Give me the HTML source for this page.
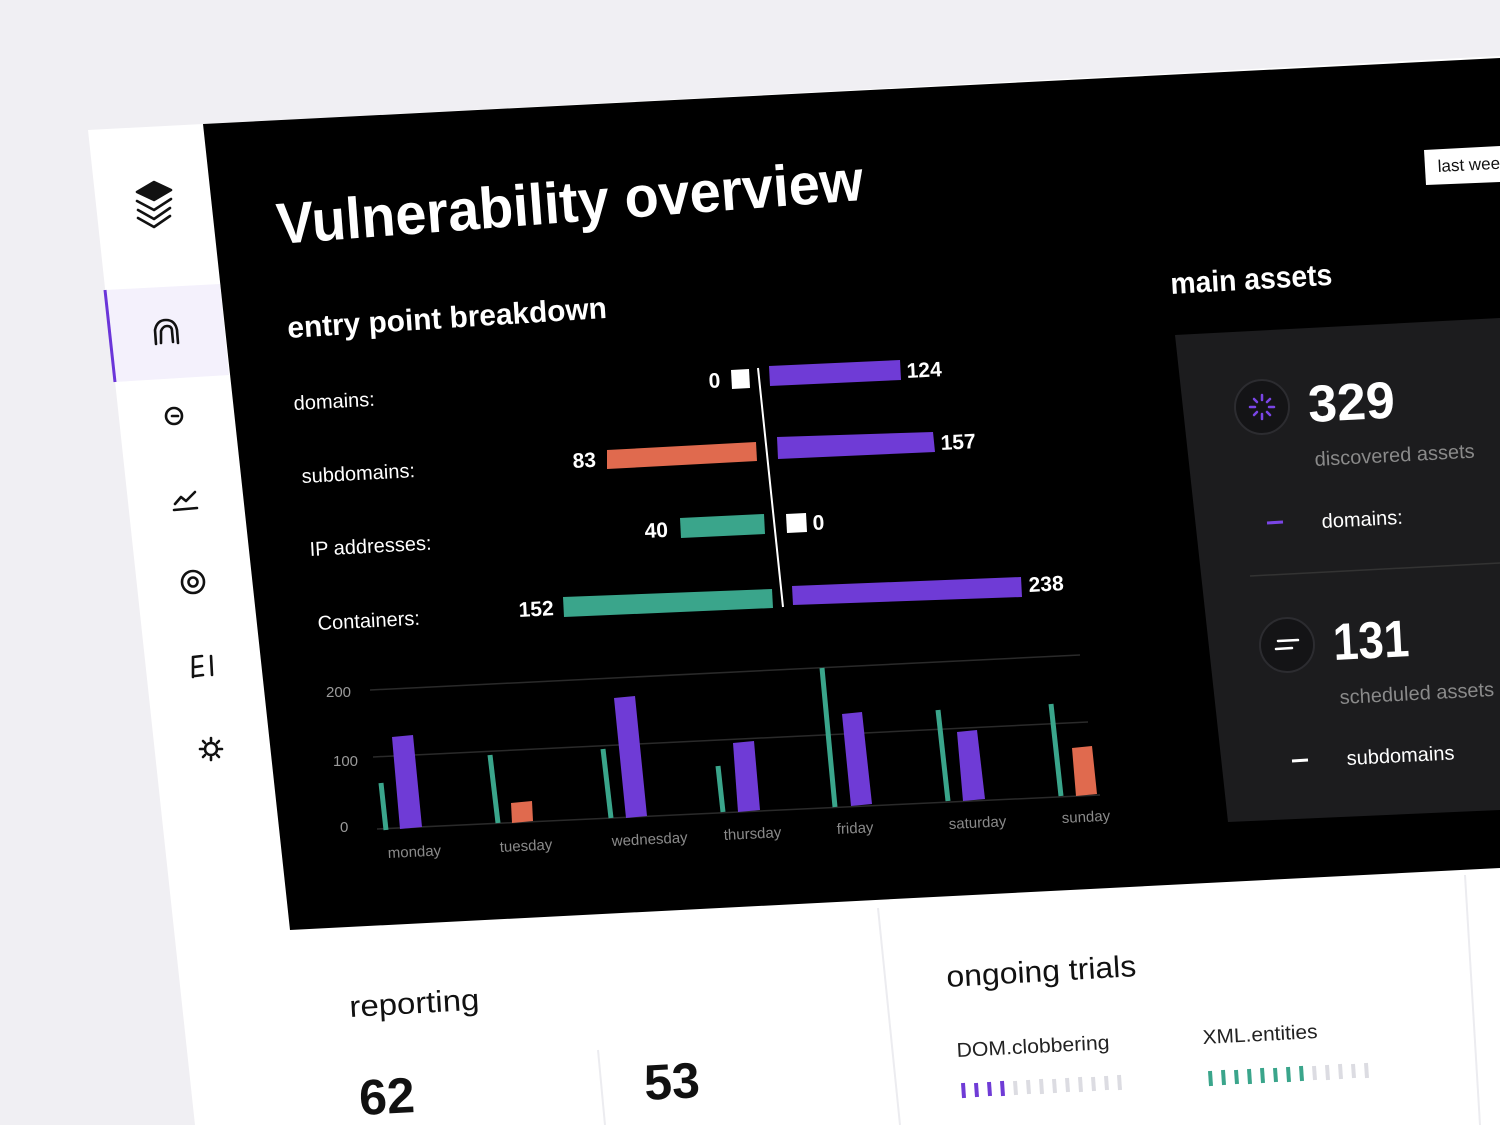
<!DOCTYPE html>
<html><head><meta charset="utf-8"><style>
html,body{margin:0;padding:0;background:#f0eff3;width:1500px;height:1125px;overflow:hidden}
svg{display:block}
text{font-family:"Liberation Sans",sans-serif}
</style></head><body>
<svg width="1500" height="1125" viewBox="0 0 1500 1125" xmlns="http://www.w3.org/2000/svg">
<rect width="1500" height="1125" fill="#f0eff3"/>
<polygon points="88,130 1500,56 1500,1125 195,1125" fill="#ffffff"/>
<polygon points="203,124 1500,58 1500,868 290,930" fill="#000"/>
<polygon points="105,290 220,284 229,375 115,382" fill="#f4f1fc"/>
<line x1="105" y1="290" x2="115" y2="382" stroke="#6b35d9" stroke-width="3"/>
<g fill="none" stroke="#111" stroke-width="2.6" stroke-linecap="round" stroke-linejoin="round">
<path d="M137,192 L154,200 L171,190 L154,182 Z" fill="#111"/>
<path d="M137,201 L154,210 L171,199"/>
<path d="M138,210 L154,219 L170,208"/>
<path d="M138,218 L154,227 L170,216"/>
<path d="M156,344 L155,330 Q157,320 166,320 Q175,320 177,330 L178,343"/>
<path d="M161,343 L161,331 Q163,326 167,326 Q172,326 172,331 L173,342"/>
<circle cx="174" cy="416" r="8"/>
<path d="M172,416 L178,416"/>
<path d="M175,504 L181,497 L186,501 L195,492"/><path d="M174,510 L197,508"/>
<circle cx="193" cy="582" r="11"/><circle cx="193" cy="582" r="4.5"/>
<path d="M193,657 L193,677 M193,657 L202,656 M195,667 L202,666 M195,676 L203,675 M211,656 L212,675"/>
<circle cx="211" cy="749" r="6"/>
<path d="M211,738 L211,741 M211,757 L211,760 M200,749 L203,749 M219,749 L222,749 M203,741 L205,743 M217,755 L219,757 M219,741 L217,743 M203,757 L205,755"/>
</g>
<text x="278" y="244" transform="rotate(-4.3 278 244)" font-size="58" font-weight="bold" fill="#fff" textLength="588" lengthAdjust="spacingAndGlyphs">Vulnerability overview</text>
<text x="288" y="338" transform="rotate(-3.6 288 338)" font-size="30" font-weight="bold" fill="#fff" textLength="320" lengthAdjust="spacingAndGlyphs">entry point breakdown</text>
<text x="1171" y="294" transform="rotate(-3.3 1171 294)" font-size="30" font-weight="bold" fill="#fff" textLength="162" lengthAdjust="spacingAndGlyphs">main assets</text>
<g font-size="20" fill="#fff" >
<text x="294" y="410" transform="rotate(-3 294 410)">domains:</text>
<text x="302" y="483" transform="rotate(-3 302 483)">subdomains:</text>
<text x="310" y="556" transform="rotate(-3 310 556)">IP addresses:</text>
<text x="318" y="630" transform="rotate(-3 318 630)">Containers:</text>
</g>
<line x1="758" y1="368" x2="783" y2="607" stroke="#fff" stroke-width="2"/>
<polygon points="731,370 749,369 750,388 732,389" fill="#fff"/>
<polygon points="769,366 900,360 901,380 770,386" fill="#6f3bd6"/>
<polygon points="607,450 756,442 757,461 607,469" fill="#e06a4e"/>
<polygon points="777,437 933,432 935,452 778,459" fill="#6f3bd6"/>
<polygon points="680,518 764,514 765,534 681,538" fill="#3aa58b"/>
<polygon points="786,514 806,513 807,532 787,533" fill="#fff"/>
<polygon points="563,597 772,589 773,608 564,617" fill="#3aa58b"/>
<polygon points="792,586 1021,577 1022,597 793,605" fill="#6f3bd6"/>
<g font-size="21" font-weight="bold" fill="#fff">
<text x="709" y="388" transform="rotate(-3 709 388)">0</text>
<text x="907" y="378" transform="rotate(-3 907 378)">124</text>
<text x="573" y="468" transform="rotate(-3 573 468)">83</text>
<text x="941" y="450" transform="rotate(-3 941 450)">157</text>
<text x="645" y="538" transform="rotate(-3 645 538)">40</text>
<text x="813" y="530" transform="rotate(-3 813 530)">0</text>
<text x="519" y="617" transform="rotate(-3 519 617)">152</text>
<text x="1029" y="592" transform="rotate(-3 1029 592)">238</text>
</g>
<g stroke="#2a2a2a" stroke-width="1.5">
<line x1="370" y1="690" x2="1080" y2="655"/>
<line x1="373" y1="757" x2="1088" y2="722"/>
<line x1="377" y1="829" x2="1100" y2="795"/>
</g>
<g font-size="15" fill="#9a9a9a">
<text x="326" y="697">200</text><text x="333" y="766">100</text><text x="340" y="832">0</text>
</g>
<g stroke="#3aa58b" stroke-width="5">
<line x1="381" y1="783" x2="386" y2="830"/>
<line x1="490" y1="755" x2="498" y2="823"/>
<line x1="603" y1="749" x2="611" y2="818"/>
<line x1="718" y1="766" x2="723" y2="812"/>
<line x1="822" y1="668" x2="835" y2="807"/>
<line x1="938" y1="710" x2="948" y2="801"/>
<line x1="1051" y1="704" x2="1061" y2="796"/>
</g>
<polygon points="392,737 413,735 422,827 400,829" fill="#6f3bd6"/>
<polygon points="511,803 532,801 533,821 512,823" fill="#e06a4e"/>
<polygon points="614,698 635,696 647,816 626,818" fill="#6f3bd6"/>
<polygon points="733,743 754,741 760,810 738,812" fill="#6f3bd6"/>
<polygon points="842,714 862,712 872,804 851,806" fill="#6f3bd6"/>
<polygon points="957,732 977,730 985,799 963,801" fill="#6f3bd6"/>
<polygon points="1072,748 1092,746 1097,794 1076,796" fill="#e06a4e"/>
<g font-size="15" fill="#8a8a8a">
<text x="388" y="858" transform="rotate(-2.8 388 858)">monday</text>
<text x="500" y="852" transform="rotate(-2.8 500 852)">tuesday</text>
<text x="612" y="846" transform="rotate(-2.8 612 846)">wednesday</text>
<text x="724" y="840" transform="rotate(-2.8 724 840)">thursday</text>
<text x="837" y="834" transform="rotate(-2.8 837 834)">friday</text>
<text x="949" y="829" transform="rotate(-2.8 949 829)">saturday</text>
<text x="1062" y="823" transform="rotate(-2.8 1062 823)">sunday</text>
</g>
<polygon points="1424,150 1500,146 1500,182 1426,185" fill="#fff"/>
<text x="1438" y="172" transform="rotate(-3 1438 172)" font-size="17" fill="#111">last week</text>
<polygon points="1175,335 1500,318 1500,810 1228,822" fill="#1c1c1e"/>
<circle cx="1262" cy="407" r="27" fill="#141416" stroke="#2c2c30" stroke-width="2"/>
<g stroke="#7a45e6" stroke-width="2.5" stroke-linecap="round">
<line x1="1262" y1="395" x2="1262" y2="400"/><line x1="1262" y1="414" x2="1262" y2="419"/>
<line x1="1250" y1="407" x2="1255" y2="407"/><line x1="1269" y1="407" x2="1274" y2="407"/>
<line x1="1254" y1="399" x2="1257" y2="402"/><line x1="1267" y1="412" x2="1270" y2="415"/>
<line x1="1270" y1="399" x2="1267" y2="402"/><line x1="1254" y1="415" x2="1257" y2="412"/>
</g>
<text x="1309" y="422" transform="rotate(-3 1309 422)" font-size="52" font-weight="bold" fill="#fff">329</text>
<text x="1315" y="466" transform="rotate(-3 1315 466)" font-size="20" fill="#8a8a8a">discovered assets</text>
<line x1="1267" y1="523" x2="1283" y2="522" stroke="#7a45e6" stroke-width="3"/>
<text x="1322" y="528" transform="rotate(-3 1322 528)" font-size="20" fill="#fff">domains:</text>
<line x1="1250" y1="576" x2="1500" y2="563" stroke="#333" stroke-width="1.5"/>
<circle cx="1287" cy="645" r="27" fill="#141416" stroke="#2c2c30" stroke-width="2"/>
<g stroke="#fff" stroke-width="2.5" stroke-linecap="round"><line x1="1278" y1="641" x2="1298" y2="640"/><line x1="1276" y1="649" x2="1292" y2="648"/></g>
<text x="1334" y="660" transform="rotate(-3 1334 660)" font-size="52" font-weight="bold" fill="#fff" textLength="76" lengthAdjust="spacingAndGlyphs">131</text>
<text x="1340" y="704" transform="rotate(-3 1340 704)" font-size="20" fill="#8a8a8a">scheduled assets</text>
<line x1="1292" y1="761" x2="1308" y2="760" stroke="#fff" stroke-width="3"/>
<text x="1347" y="765" transform="rotate(-3 1347 765)" font-size="20" fill="#fff">subdomains</text>
<line x1="878" y1="908" x2="900" y2="1125" stroke="#ececf0" stroke-width="2"/>
<line x1="1465" y1="875" x2="1480" y2="1125" stroke="#ececf0" stroke-width="2"/>
<line x1="598" y1="1050" x2="605" y2="1125" stroke="#ececf0" stroke-width="2"/>
<text x="350" y="1017" transform="rotate(-3.3 350 1017)" font-size="30" fill="#111" textLength="130" lengthAdjust="spacingAndGlyphs">reporting</text>
<text x="360" y="1115" transform="rotate(-3 360 1115)" font-size="50" font-weight="bold" fill="#111">62</text>
<text x="645" y="1100" transform="rotate(-3 645 1100)" font-size="50" font-weight="bold" fill="#111">53</text>
<text x="947" y="987" transform="rotate(-3.3 947 987)" font-size="30" fill="#111" textLength="190" lengthAdjust="spacingAndGlyphs">ongoing trials</text>
<text x="957" y="1057" transform="rotate(-3 957 1057)" font-size="20" fill="#222" textLength="153" lengthAdjust="spacingAndGlyphs">DOM.clobbering</text>
<text x="1203" y="1044" transform="rotate(-3 1203 1044)" font-size="20" fill="#222" textLength="115" lengthAdjust="spacingAndGlyphs">XML.entities</text>
<g stroke-width="4">
<g stroke="#6f3bd6"><line x1="963" y1="1083" x2="964" y2="1098"/><line x1="976" y1="1083" x2="977" y2="1097"/><line x1="989" y1="1082" x2="990" y2="1096"/><line x1="1002" y1="1081" x2="1003" y2="1096"/></g>
<g stroke="#dcdce2"><line x1="1015" y1="1081" x2="1016" y2="1095"/><line x1="1028" y1="1080" x2="1029" y2="1094"/><line x1="1041" y1="1079" x2="1042" y2="1094"/><line x1="1054" y1="1079" x2="1055" y2="1093"/><line x1="1067" y1="1078" x2="1068" y2="1092"/><line x1="1080" y1="1077" x2="1081" y2="1092"/><line x1="1093" y1="1077" x2="1094" y2="1091"/><line x1="1106" y1="1076" x2="1107" y2="1090"/><line x1="1119" y1="1075" x2="1120" y2="1090"/></g>
<g stroke="#3aa58b"><line x1="1210" y1="1071" x2="1211" y2="1086"/><line x1="1223" y1="1070" x2="1224" y2="1085"/><line x1="1236" y1="1070" x2="1237" y2="1084"/><line x1="1249" y1="1069" x2="1250" y2="1084"/><line x1="1262" y1="1068" x2="1263" y2="1083"/><line x1="1275" y1="1068" x2="1276" y2="1082"/><line x1="1288" y1="1067" x2="1289" y2="1082"/><line x1="1301" y1="1066" x2="1302" y2="1081"/></g>
<g stroke="#dcdce2"><line x1="1314" y1="1066" x2="1315" y2="1080"/><line x1="1327" y1="1065" x2="1328" y2="1080"/><line x1="1340" y1="1064" x2="1341" y2="1079"/><line x1="1353" y1="1064" x2="1354" y2="1078"/><line x1="1366" y1="1063" x2="1367" y2="1078"/></g>
</g>
</svg>
</body></html>
